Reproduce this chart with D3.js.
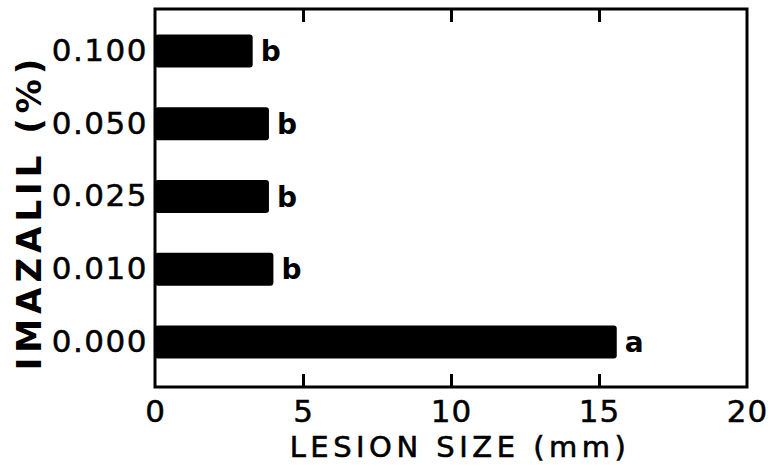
<!DOCTYPE html>
<html>
<head>
<meta charset="utf-8">
<script src="https://cdn.jsdelivr.net/npm/d3@7"></script>
<style>
  body { margin: 0; background: #fff; }
  svg { display: block; }
  .ticklbl { font-family: "DejaVu Sans", sans-serif; font-size: 31px; fill: #000; stroke: #000; stroke-width: 0.5px; }
  .letra { font-family: "DejaVu Sans", sans-serif; font-weight: bold; font-size: 28px; }
</style>
</head>
<body>
<div id="graf"></div>
<script>
// datos
const concentraciones = ["0.100", "0.050", "0.025", "0.010", "0.000"]
const lesion = [3.3, 3.85, 3.85, 4.0, 15.6]
const letras = ["b", "b", "b", "b", "a"]
const xTicks = [0, 5, 10, 15, 20]

const anchoTotal = 768
const altoTotal = 467

const svg = d3.select("#graf").append("svg")
    .attr("width", anchoTotal).attr("height", altoTotal)

const box = { left: 155, right: 747, top: 9, bottom: 387 }

const x = d3.scaleLinear().domain([0, 20]).range([box.left, box.right])
const y = d3.scaleBand().domain(concentraciones)
    .range([14.6, 378.4]).paddingInner(0.546).paddingOuter(0.273)

// barras
svg.selectAll("rect.barra")
    .data(concentraciones)
    .enter().append("rect")
    .attr("class", "barra")
    .attr("x", x(0))
    .attr("y", d => y(d))
    .attr("width", (d, i) => x(lesion[i]) - x(0))
    .attr("height", y.bandwidth())
    .attr("rx", 3)
    .attr("fill", "#000")

// letras de significancia
svg.selectAll("text.letra")
    .data(concentraciones)
    .enter().append("text")
    .attr("class", "letra")
    .attr("x", (d, i) => x(lesion[i]) + 8)
    .attr("y", d => y(d) + y.bandwidth() / 2)
    .attr("dy", "0.36em")
    .text((d, i) => letras[i])

// marco
svg.append("rect")
    .attr("x", box.left).attr("y", box.top)
    .attr("width", box.right - box.left).attr("height", box.bottom - box.top)
    .attr("fill", "none").attr("stroke", "#000").attr("stroke-width", 3)

// eje inferior
const ejeX = svg.append("g")
    .attr("transform", `translate(0, ${box.bottom})`)
    .call(d3.axisBottom(x).tickValues(xTicks).tickSizeInner(-13).tickSizeOuter(0).tickPadding(13))
ejeX.select(".domain").remove()
ejeX.selectAll(".tick line").attr("stroke-width", 3)
    .filter(d => d === 0 || d === 20).remove()
ejeX.selectAll(".tick text").attr("class", "ticklbl").attr("font-size", null).attr("font-family", null)
    .attr("letter-spacing", 1).attr("dy", "0.71em")

// eje superior (solo marcas)
const ejeTop = svg.append("g")
    .attr("transform", `translate(0, ${box.top})`)
    .call(d3.axisTop(x).tickValues([5, 10, 15]).tickSizeInner(-13).tickSizeOuter(0).tickFormat(""))
ejeTop.select(".domain").remove()
ejeTop.selectAll(".tick line").attr("stroke-width", 3)

// eje izquierdo
const ejeY = svg.append("g")
    .attr("transform", `translate(${box.left}, 0)`)
    .call(d3.axisLeft(y).tickSize(0).tickPadding(7))
ejeY.select(".domain").remove()
ejeY.selectAll(".tick text").attr("class", "ticklbl").attr("font-size", null).attr("font-family", null)
    .attr("letter-spacing", 1.5)

// titulos
svg.append("text")
    .attr("x", 460).attr("y", 457)
    .attr("text-anchor", "middle")
    .attr("font-family", "DejaVu Sans, sans-serif")
    .attr("font-size", 29)
    .attr("letter-spacing", 4.5)
    .attr("stroke", "#000").attr("stroke-width", 0.6)
    .text("LESION SIZE (mm)")

svg.append("text")
    .attr("transform", "translate(41, 212) rotate(-90)")
    .attr("text-anchor", "middle")
    .attr("font-family", "DejaVu Sans, sans-serif")
    .attr("font-weight", "bold")
    .attr("font-size", 34)
    .attr("letter-spacing", 5)
    .text("IMAZALIL (%)")
</script>
</body>
</html>
